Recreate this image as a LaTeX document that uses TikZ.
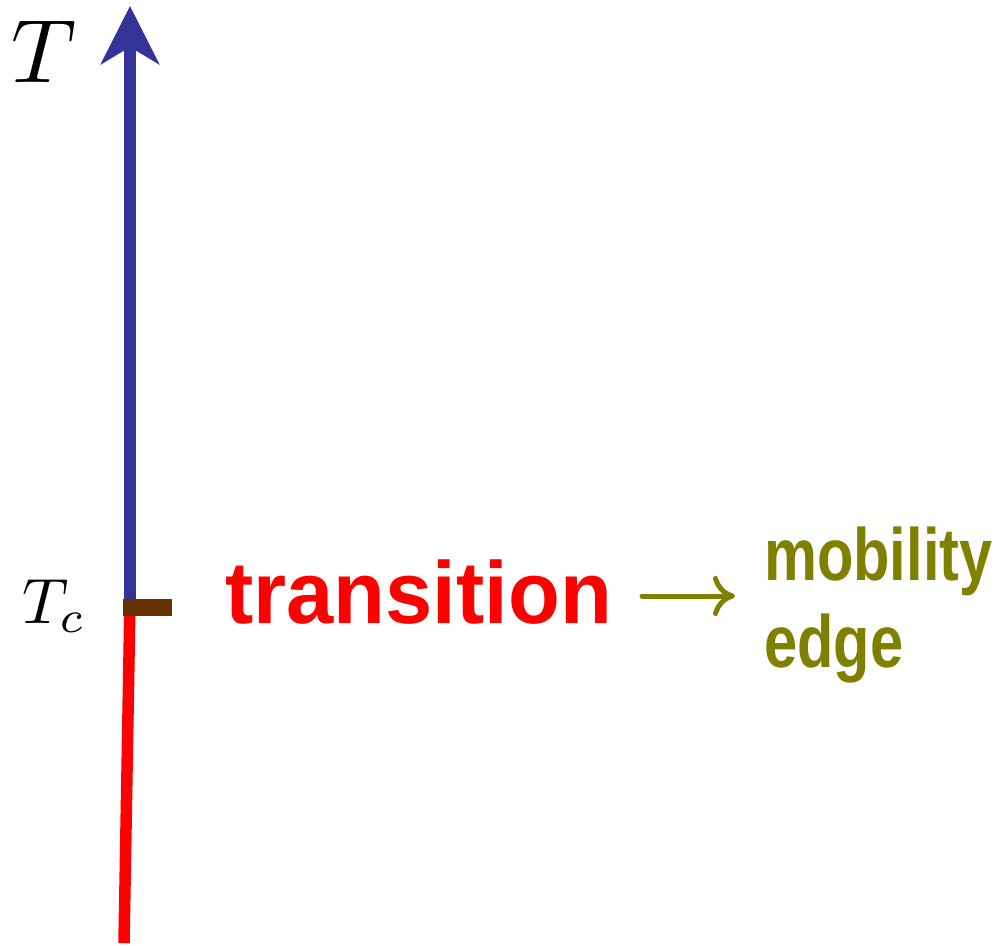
\documentclass[tikz,border=0pt]{standalone}
\usepackage{fontspec}
\setsansfont{Liberation Sans}
\usetikzlibrary{arrows.meta}
\definecolor{axisblue}{HTML}{333399}
\definecolor{tcbrown}{HTML}{663300}
\definecolor{edgeolive}{HTML}{808000}
\begin{document}
\begin{tikzpicture}[x=1pt,y=-1pt,
  lbl/.style={inner sep=0pt,anchor=base west},
  bigword/.style={lbl,text=red,font=\fontsize{88}{88}\sffamily\bfseries},
  oliveword/.style={lbl,text=edgeolive,font=\fontsize{74}{87}\sffamily\bfseries}]
\useasboundingbox (0,0) rectangle (1001,945);
\coordinate (top) at (130,6);
\coordinate (tc) at (130,600);
\coordinate (bottom) at (124,943);
\coordinate (ar1) at (642,596);
\coordinate (ar2) at (735,596);
% axis
\draw[red,line width=11.5pt] (tc) -- (bottom);
\draw[axisblue,line width=12pt,-{Stealth[length=58pt,width=58pt,inset=17pt]}] (tc) -- (top);
\fill[tcbrown] (123,599) rectangle (172,616);
% labels
\node[lbl] (T) at (11,82) {\scalebox{9.0}{$T$}};
\node[lbl] (Tc) at (22,623) {\scalebox{6.4}{$T_c$}};
\node[bigword] (trans) at (225,623) {\scalebox{0.965}[1]{transition}};
\node[oliveword] (mob) at (764,580) {\scalebox{0.805}[1]{mobility}};
\node[oliveword] (edge) at (764,667) {\scalebox{0.805}[1]{edge}};
\draw[edgeolive,line width=5pt,line cap=round,-{Computer Modern Rightarrow[length=22pt,width=40pt]}] (ar1) -- (ar2);
\end{tikzpicture}
\end{document}
